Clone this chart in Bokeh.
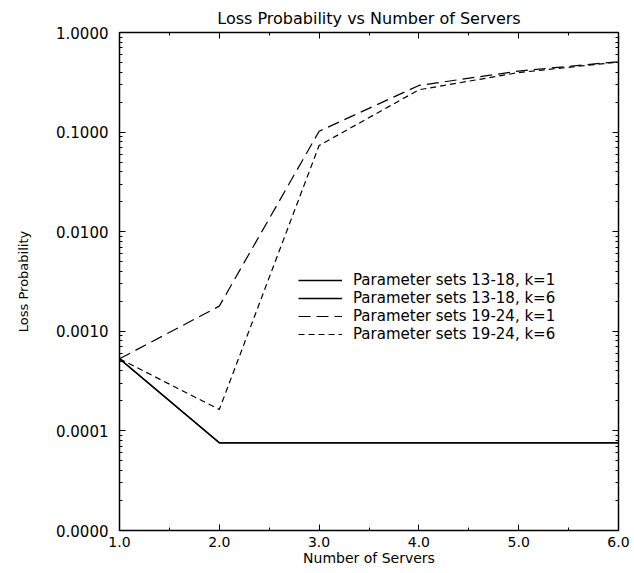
from bokeh.plotting import figure
from bokeh.models import (FixedTicker, PrintfTickFormatter, CustomJSTickFormatter, LogAxis,
                          LinearAxis, Legend, LegendItem, Range1d)
from bokeh.embed import file_html
from bokeh.resources import INLINE

# ---- data ----
servers = [1, 2, 3, 4, 5, 6]
p13_18_k1 = [5.3e-4, 7.6e-5, 7.6e-5, 7.6e-5, 7.6e-5, 7.6e-5]
p13_18_k6 = [5.3e-4, 7.6e-5, 7.6e-5, 7.6e-5, 7.6e-5, 7.6e-5]
p19_24_k1 = [5.3e-4, 1.79e-3, 0.102, 0.294, 0.41, 0.51]
p19_24_k6 = [5.3e-4, 1.64e-4, 0.0733, 0.266, 0.396, 0.505]

x_major = [1, 2, 3, 4, 5, 6]
x_minor = [1.5, 2.5, 3.5, 4.5, 5.5]
y_major = [1e-5, 1e-4, 1e-3, 1e-2, 1e-1, 1.0]
y_minor = [m * d for d in [1e-5, 1e-4, 1e-3, 1e-2, 1e-1] for m in range(2, 10)]

FONT = "DejaVu Sans"

p = figure(width=632, height=568, y_axis_type="log",
           x_range=Range1d(1, 6), y_range=Range1d(1e-5, 1.0),
           output_backend="svg", toolbar_location=None,
           min_border_left=119, min_border_right=14,
           min_border_top=32, min_border_bottom=38)
p.xgrid.visible = False
p.ygrid.visible = False
p.outline_line_color = "black"
p.outline_line_width = 1
p.background_fill_color = "white"
p.border_fill_color = "white"

p.title.text = "Loss Probability vs Number of Servers"
p.title.align = "center"
p.title.text_font = FONT
p.title.text_font_size = "16px"
p.title.text_font_style = "normal"
p.title.text_color = "black"
p.title.standoff = 10

xt = FixedTicker(ticks=x_major, minor_ticks=x_minor)
yt = FixedTicker(ticks=y_major, minor_ticks=y_minor)

def style(ax):
    ax.axis_line_color = "black"
    ax.axis_line_width = 1.5
    ax.major_tick_in = 6
    ax.major_tick_out = 0
    ax.minor_tick_in = 3
    ax.minor_tick_out = 0
    ax.major_tick_line_color = "black"
    ax.minor_tick_line_color = "black"
    ax.major_label_text_font = FONT
    ax.major_label_text_color = "black"
    ax.axis_label_text_font = FONT
    ax.axis_label_text_font_style = "normal"
    ax.axis_label_text_color = "black"

xa = p.xaxis[0]
xa.ticker = xt
xa.formatter = PrintfTickFormatter(format="%.1f")
style(xa)
xa.major_label_text_font_size = "14px"
xa.major_label_standoff = 6
xa.axis_label = "Number of Servers"
xa.axis_label_text_font_size = "14px"
xa.axis_label_standoff = 0

ya = p.yaxis[0]
ya.ticker = yt
ya.formatter = PrintfTickFormatter(format="%.4f")
style(ya)
ya.major_label_text_font_size = "15px"
ya.major_label_standoff = 11
ya.axis_label = "Loss Probability"
ya.axis_label_text_font_size = "13px"
ya.axis_label_standoff = 22

blank = CustomJSTickFormatter(code="return ''")
ra = LogAxis(ticker=yt, formatter=blank)
style(ra)
ra.major_label_standoff = 0
ta = LinearAxis(ticker=xt, formatter=blank)
style(ta)
ta.major_label_standoff = 0
p.add_layout(ra, "right")
p.add_layout(ta, "above")

r1 = p.line(servers, p13_18_k1, line_color="black", line_width=1.5)
r2 = p.line(servers, p13_18_k6, line_color="black", line_width=1.5)
r3 = p.line(servers, p19_24_k1, line_color="black", line_width=1.2, line_dash="12 6")
r4 = p.line(servers, p19_24_k6, line_color="black", line_width=1.2, line_dash="6 4")

legend = Legend(items=[
    LegendItem(label="Parameter sets 13-18, k=1", renderers=[r1]),
    LegendItem(label="Parameter sets 13-18, k=6", renderers=[r2]),
    LegendItem(label="Parameter sets 19-24, k=1", renderers=[r3]),
    LegendItem(label="Parameter sets 19-24, k=6", renderers=[r4]),
], location=(179, 187))
legend.border_line_color = None
legend.background_fill_alpha = 0
legend.padding = 0
legend.margin = 0
legend.spacing = 0
legend.glyph_width = 44
legend.glyph_height = 16
legend.label_height = 16
legend.label_standoff = 11
legend.label_text_font = FONT
legend.label_text_font_size = "15px"
legend.label_text_color = "black"
p.add_layout(legend, "center")

open("out.html", "w").write(file_html(p, INLINE))
